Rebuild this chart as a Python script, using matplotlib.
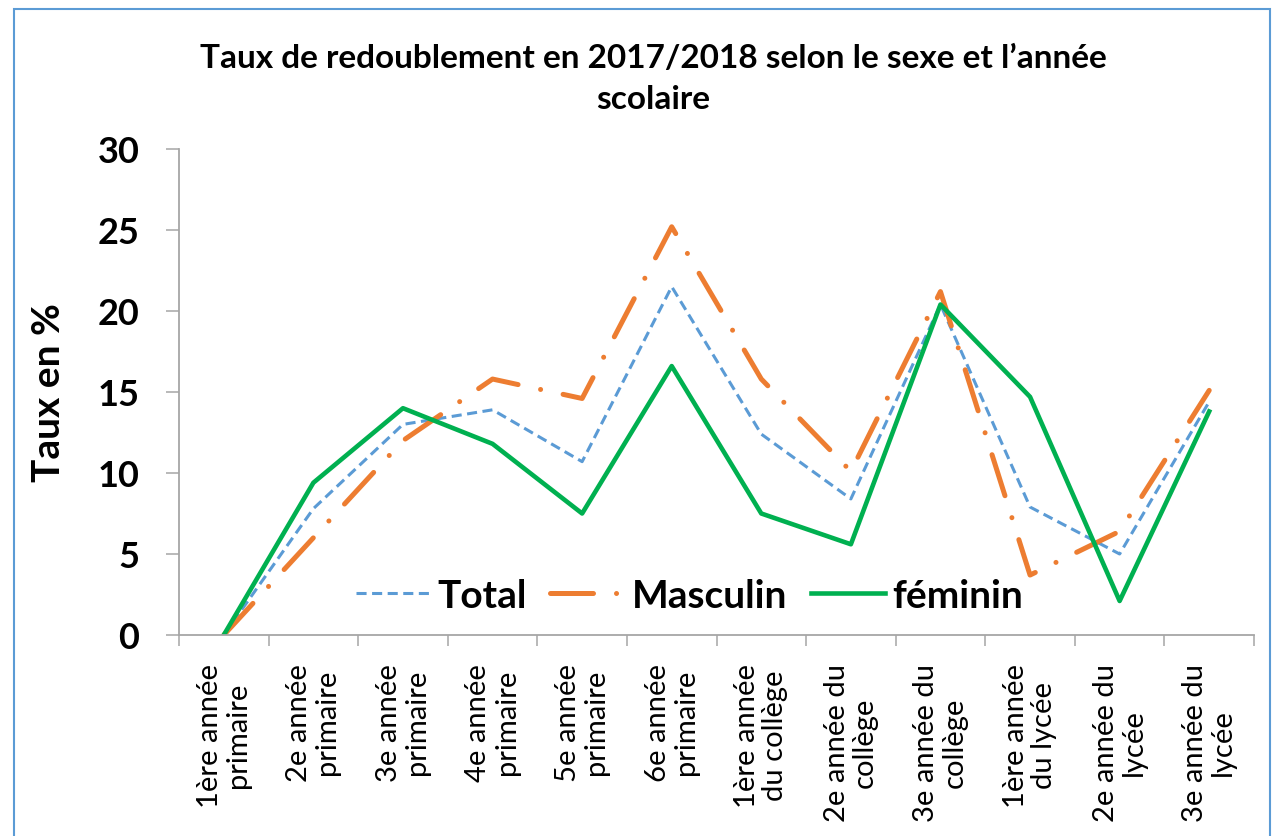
import matplotlib.pyplot as plt
import numpy as np
from matplotlib.patches import Rectangle

plt.rcParams['font.family'] = ['Lato', 'DejaVu Sans']

niveaux = ["1ère année\nprimaire", "2e année\nprimaire", "3e année\nprimaire",
           "4e année\nprimaire", "5e année\nprimaire", "6e année\nprimaire",
           "1ère année\ndu collège", "2e année du\ncollège", "3e année du\ncollège",
           "1ère année\ndu lycée", "2e année du\nlycée", "3e année du\nlycée"]
total = [0.0, 7.8, 13.0, 13.9, 10.7, 21.5, 12.4, 8.4, 20.4, 7.9, 5.0, 14.4]
masculin = [0.0, 6.0, 12.0, 15.8, 14.6, 25.2, 15.8, 10.1, 21.2, 3.7, 6.4, 15.1]
feminin = [0.0, 9.4, 14.0, 11.8, 7.5, 16.6, 7.5, 5.6, 20.4, 14.7, 2.1, 13.8]

W, H = 1276, 837
fig = plt.figure(figsize=(W / 100, H / 100), dpi=100)
ax = fig.add_axes([179 / W, 1 - 636 / H, (1254 - 179) / W, (636 - 150) / H])

# chart frame
fig.patches.append(Rectangle((14 / W, -0.05), (1270 - 14) / W, 1 - 10 / H + 0.05,
                             transform=fig.transFigure, fill=False,
                             edgecolor='#5B9BD5', lw=1.5))

x = np.arange(len(niveaux))
ax.plot(x, total, color='#5B9BD5', lw=2.2, dashes=(3.3, 1.8), label='Total')
ax.plot(x, masculin, color='#ED7D31', lw=3.6, dashes=(8.6, 4.6, 0.01, 4.6),
        dash_capstyle='round', label='Masculin')
ax.plot(x, feminin, color='#00B050', lw=3.3, label='féminin')

ax.set_xlim(-0.5, len(niveaux) - 0.5)
ax.set_ylim(0, 30)
ax.set_yticks(range(0, 31, 5))
ax.tick_params(axis='y', labelsize=26, length=9.5, width=1.1, color='#A6A6A6', pad=19)
for t in ax.get_yticklabels():
    t.set_fontweight('bold')

ax.set_xticks(x)
ax.set_xticklabels(niveaux, rotation=90, fontsize=21, va='top', ha='center',
                   multialignment='center', linespacing=1.1)
ax.tick_params(axis='x', length=0, pad=20)
ax.set_xticks(np.arange(-0.5, len(niveaux), 1), minor=True)
ax.tick_params(axis='x', which='minor', length=8, width=1.1, color='#A6A6A6')

for s in ['top', 'right']:
    ax.spines[s].set_visible(False)
for s in ['left', 'bottom']:
    ax.spines[s].set_color('#A6A6A6')
    ax.spines[s].set_linewidth(1.3)
ax.patch.set_alpha(0)

ax.set_ylabel('Taux en %', fontsize=28, fontweight='bold')
ax.yaxis.set_label_coords(-(179 - 66) / (1254 - 179), 0.5)

fig.text(653 / W, 1 - 58 / H, "Taux de redoublement en 2017/2018 selon le sexe et l’année",
         fontsize=24, fontweight='bold', ha='center', va='center')
fig.text(653 / W, 1 - 100 / H, "scolaire", fontsize=24, fontweight='bold',
         ha='center', va='center')

ax.legend(loc='center', bbox_to_anchor=(0.475, 0.082), ncol=3, frameon=False,
          prop={'size': 28, 'weight': 'bold'}, handlelength=1.9, handletextpad=0.2,
          columnspacing=0.6)

fig.savefig('out.png', dpi=100)
